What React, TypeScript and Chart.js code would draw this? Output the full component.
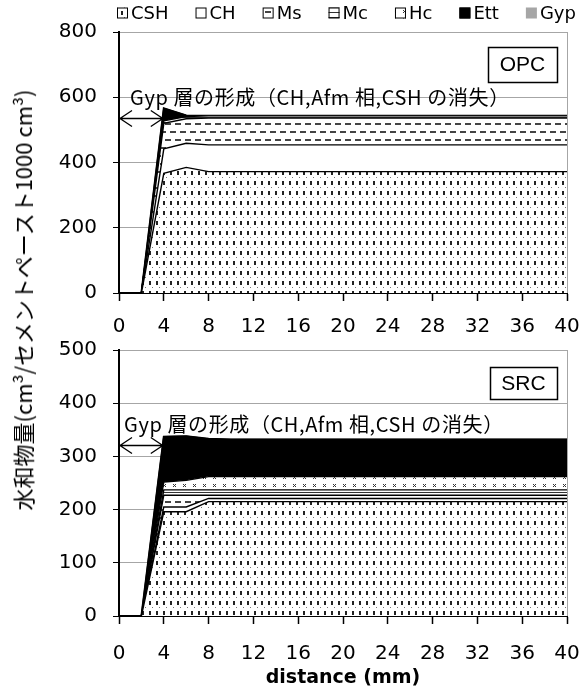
import React, { useEffect, useRef } from 'react';
import { Chart, registerables } from 'chart.js';
Chart.register(...registerables);

// ---------------- data ----------------
const distance = [0, 2, 4, 6, 8, 10, 12, 14, 16, 18, 20, 22, 24, 26, 28, 30, 32, 34, 36, 38, 40];
const phaseNames = ['CSH', 'CH', 'Ms', 'Mc', 'Hc', 'Ett', 'Gyp'];
const xTickValues = [0, 4, 8, 12, 16, 20, 24, 28, 32, 36, 40];
const opcTickValues = [0, 200, 400, 600, 800];
const srcTickValues = [0, 100, 200, 300, 400, 500];

// OPC (layer thickness, cm3 / 1000 cm3 paste)
const opcCSH = [0, 0, 367, 385, 372, 372, 372, 372, 372, 372, 372, 372, 372, 372, 372, 372, 372, 372, 372, 372, 372];
const opcCH = [0, 0, 75, 74, 82, 82, 82, 82, 82, 82, 82, 82, 82, 82, 82, 82, 82, 82, 82, 82, 82];
const opcMs = [0, 0, 78, 75, 82, 82, 82, 82, 82, 82, 82, 82, 82, 82, 82, 82, 82, 82, 82, 82, 82];
const opcMc = [0, 0, 8, 7, 7, 7, 7, 7, 7, 7, 7, 7, 7, 7, 7, 7, 7, 7, 7, 7, 7];
const opcHc = [0, 0, 0, 0, 0, 0, 0, 0, 0, 0, 0, 0, 0, 0, 0, 0, 0, 0, 0, 0, 0];
const opcEtt = [0, 0, 38, 3, 0, 0, 0, 0, 0, 0, 0, 0, 0, 0, 0, 0, 0, 0, 0, 0, 0];
const opcGyp = [0, 0, 0, 0, 0, 0, 0, 0, 0, 0, 0, 0, 0, 0, 0, 0, 0, 0, 0, 0, 0];

// SRC
const srcCSH = [0, 0, 196, 196, 215, 215, 215, 215, 215, 215, 215, 215, 215, 215, 215, 215, 215, 215, 215, 215, 215];
const srcCH = [0, 0, 9, 9, 6, 6, 6, 6, 6, 6, 6, 6, 6, 6, 6, 6, 6, 6, 6, 6, 6];
const srcMs = [0, 0, 22, 22, 6, 6, 6, 6, 6, 6, 6, 6, 6, 6, 6, 6, 6, 6, 6, 6, 6];
const srcMc = [0, 0, 10, 10, 10, 10, 10, 10, 10, 10, 10, 10, 10, 10, 10, 10, 10, 10, 10, 10, 10];
const srcHc = [0, 0, 15, 18, 25, 25, 25, 25, 25, 25, 25, 25, 25, 25, 25, 25, 25, 25, 25, 25, 25];
const srcEtt = [0, 0, 85, 83, 71, 70, 70, 70, 70, 70, 70, 70, 70, 70, 70, 70, 70, 70, 70, 70, 70];
const srcGyp = [0, 0, 0, 0, 0, 0, 0, 0, 0, 0, 0, 0, 0, 0, 0, 0, 0, 0, 0, 0, 0];

const noteText = 'Gyp 層の形成（CH,Afm 相,CSH の消失）';
const yTitle = '水和物量(cm³/セメントペースト1000 cm³)';
const xTitle = 'distance (mm)';

// ---------------- patterns ----------------
function tile(w: number, h: number, draw: (c: CanvasRenderingContext2D) => void) {
  const cv = document.createElement('canvas');
  cv.width = w;
  cv.height = h;
  const c = cv.getContext('2d')!;
  c.fillStyle = '#fff';
  c.fillRect(0, 0, w, h);
  draw(c);
  return c.createPattern(cv, 'repeat')!;
}

function makeFills(): any[] {
  const csh = tile(7, 10, (c) => {
    c.fillStyle = '#222';
    c.fillRect(2, 1, 2, 4);
    c.fillStyle = '#777';
    c.fillRect(5, 7, 1, 1);
  });
  const ch = '#ffffff';
  const ms = tile(10, 16, (c) => {
    c.fillStyle = '#444';
    c.fillRect(0, 3, 6, 2);
    c.fillRect(5, 11, 5, 2);
    c.fillRect(0, 11, 1, 2);
  });
  const mc = tile(4, 5, (c) => {
    c.fillStyle = '#333';
    c.fillRect(0, 2, 4, 1);
  });
  const hc = tile(10, 8, (c) => {
    c.strokeStyle = '#333';
    c.lineWidth = 1;
    c.beginPath();
    c.moveTo(3, 2);
    c.lineTo(6, 5);
    c.moveTo(6, 2);
    c.lineTo(3, 5);
    c.stroke();
  });
  return [csh, ch, ms, mc, hc, '#000000', '#a6a6a6'];
}

function buildDatasets(layers: number[][], fills: any[]) {
  return layers.map((vals, i) => ({
    label: phaseNames[i],
    data: vals.map((v, k) => ({ x: distance[k], y: v })),
    backgroundColor: fills[i],
    borderColor: '#000',
    borderWidth: i === 5 ? 2 : 1.4,
    pointRadius: 0,
    tension: 0,
    fill: i === 0 ? 'origin' : '-1',
  }));
}

const tickFont = { family: 'DejaVu Sans', size: 20 };

const decorPlugin = {
  id: 'decor',
  afterDraw(chart: any, _args: any, opts: any) {
    const { ctx, chartArea: a, scales } = chart;
    const x = scales.x;
    const y = scales.y;
    ctx.save();
    // right frame line
    ctx.strokeStyle = '#a6a6a6';
    ctx.lineWidth = 1;
    ctx.beginPath();
    ctx.moveTo(a.right + 0.5, a.top);
    ctx.lineTo(a.right + 0.5, a.bottom);
    ctx.stroke();

    // note text
    ctx.fillStyle = '#000';
    ctx.font = '20px "Noto Sans CJK JP"';
    try {
      (ctx as any).letterSpacing = '0.6px';
    } catch (e) {}
    ctx.textAlign = 'left';
    ctx.textBaseline = 'middle';
    ctx.fillText(opts.note, a.left + opts.noteDx, y.getPixelForValue(opts.noteValue));
    try {
      (ctx as any).letterSpacing = '0px';
    } catch (e) {}

    // double arrow over 0-4 mm
    const ay = Math.round(y.getPixelForValue(opts.arrowValue)) + 0.5;
    const x0 = x.getPixelForValue(opts.arrowFrom);
    const x1 = x.getPixelForValue(opts.arrowTo);
    ctx.strokeStyle = '#000';
    ctx.lineWidth = 1.3;
    ctx.beginPath();
    ctx.moveTo(x0, ay);
    ctx.lineTo(x1, ay);
    ctx.moveTo(x0 + 13, ay - 8);
    ctx.lineTo(x0 + 1, ay);
    ctx.lineTo(x0 + 13, ay + 8);
    ctx.moveTo(x1 - 13, ay - 8);
    ctx.lineTo(x1 - 1, ay);
    ctx.lineTo(x1 - 13, ay + 8);
    ctx.stroke();

    // cement label box
    const bx = a.right - opts.boxRight - opts.boxW;
    const by = a.top + opts.boxTop;
    ctx.fillStyle = '#fff';
    ctx.fillRect(bx, by, opts.boxW, opts.boxH);
    ctx.strokeStyle = '#000';
    ctx.lineWidth = 1.5;
    ctx.strokeRect(bx + 0.5, by + 0.5, opts.boxW, opts.boxH);
    ctx.fillStyle = '#000';
    ctx.font = '21px "Liberation Sans"';
    ctx.textAlign = 'center';
    ctx.fillText(opts.box, bx + opts.boxW / 2, by + opts.boxH / 2 + 1);

    // legend
    if (opts.legend) {
      ctx.font = '18px "DejaVu Sans"';
      ctx.textAlign = 'left';
      ctx.textBaseline = 'middle';
      let lx = opts.legendX;
      const ly = opts.legendY;
      const bs = 11;
      chart.data.datasets.forEach((ds: any, i: number) => {
        ctx.fillStyle = ds.backgroundColor;
        ctx.fillRect(lx, ly - bs / 2, bs, bs);
        if (i !== 6) {
          ctx.strokeStyle = '#000';
          ctx.lineWidth = 1;
          ctx.strokeRect(lx + 0.5, ly - bs / 2 + 0.5, bs - 1, bs - 1);
        }
        ctx.fillStyle = '#000';
        ctx.fillText(ds.label, lx + bs + 3, ly + 1);
        lx += bs + 3 + ctx.measureText(ds.label).width + opts.legendGap;
      });
    }
    ctx.restore();
  },
};

function makeConfig(layers: number[][], ticks: number[], xAxisHeight: number, padTop: number, labelPad: number, showTitle: boolean, decor: any) {
  const fills = makeFills();
  return {
    type: 'line',
    data: { datasets: buildDatasets(layers, fills) },
    plugins: [decorPlugin],
    options: {
      animation: false,
      responsive: false,
      maintainAspectRatio: false,
      layout: { padding: { top: padTop, right: 17, left: 0, bottom: 0 } },
      plugins: {
        legend: { display: false },
        tooltip: { enabled: false },
        decor,
      },
      scales: {
        x: {
          type: 'linear',
          min: xTickValues[0],
          max: xTickValues[xTickValues.length - 1],
          afterFit: (s: any) => {
            s.height = xAxisHeight;
            s.paddingLeft = 0;
            s.paddingRight = 0;
          },
          ticks: {
            stepSize: xTickValues[1] - xTickValues[0],
            autoSkip: false,
            maxRotation: 0,
            color: '#000',
            font: tickFont,
            padding: labelPad,
          },
          grid: {
            drawOnChartArea: false,
            tickLength: 8,
            tickColor: '#000',
            tickWidth: 1.5,
          },
          border: { color: '#000', width: 2 },
          title: {
            display: showTitle,
            text: xTitle,
            color: '#000',
            font: { family: 'DejaVu Sans', size: 19, weight: 'bold' },
            padding: { top: 0, bottom: 2 },
          },
        },
        y: {
          stacked: true,
          min: ticks[0],
          max: ticks[ticks.length - 1],
          afterFit: (s: any) => {
            s.width = 119;
            s.paddingTop = 0;
            s.paddingBottom = 0;
          },
          ticks: {
            stepSize: ticks[1] - ticks[0],
            color: '#000',
            font: tickFont,
            padding: 16,
          },
          grid: {
            color: '#a6a6a6',
            lineWidth: 1,
            tickLength: 6,
            tickColor: '#000',
          },
          border: { color: '#000', width: 2 },
        },
      },
    },
  };
}

function ChartCanvas({ config, width, height, top }: any) {
  const ref = useRef<HTMLCanvasElement>(null);
  useEffect(() => {
    const chart = new Chart(ref.current as HTMLCanvasElement, config());
    return () => chart.destroy();
  }, []);
  return (
    <canvas
      ref={ref}
      width={width}
      height={height}
      style={{ position: 'absolute', left: 0, top, width, height }}
    />
  );
}

export default function App() {
  const opcLayers = [opcCSH, opcCH, opcMs, opcMc, opcHc, opcEtt, opcGyp];
  const srcLayers = [srcCSH, srcCH, srcMs, srcMc, srcHc, srcEtt, srcGyp];
  const topConfig = () =>
    makeConfig(opcLayers, opcTickValues, 52, 32, 14, false, {
      note: noteText,
      noteDx: 11,
      noteValue: 600,
      arrowValue: 537,
      arrowFrom: 0,
      arrowTo: 4,
      box: 'OPC',
      boxRight: 10,
      boxW: 69,
      boxH: 35,
      boxTop: 15,
      legend: true,
      legendX: 117,
      legendY: 13,
      legendGap: 27,
    });
  const bottomConfig = () =>
    makeConfig(srcLayers, srcTickValues, 75, 20, 18, true, {
      note: noteText,
      noteDx: 5,
      noteValue: 361,
      arrowValue: 321,
      arrowFrom: 0,
      arrowTo: 4,
      box: 'SRC',
      boxRight: 10,
      boxW: 67,
      boxH: 32,
      boxTop: 17,
      legend: false,
    });
  return (
    <div style={{ position: 'fixed', left: 0, top: 0, width: 584, height: 691, background: '#fff', overflow: 'hidden' }}>
      <ChartCanvas config={topConfig} width={584} height={345} top={0} />
      <ChartCanvas config={bottomConfig} width={584} height={361} top={330} />
      <div
        style={{
          position: 'absolute',
          left: 22,
          top: 300,
          transform: 'translate(-50%, -50%) rotate(-90deg)',
          whiteSpace: 'nowrap',
          font: '22px "Noto Sans CJK JP"',
          color: '#000',
          lineHeight: 1,
        }}
      >
        {yTitle}
      </div>
    </div>
  );
}
